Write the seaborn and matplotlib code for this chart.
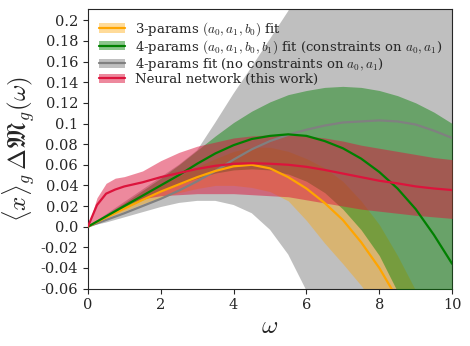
import numpy as np
import pandas as pd
import matplotlib
matplotlib.use("Agg")
import matplotlib.pyplot as plt
from matplotlib.patches import Patch
from matplotlib.lines import Line2D
import seaborn as sns

# omega grids
w_half = [0, 0.5, 1, 1.5, 2, 2.5, 3, 3.5, 4, 4.5, 5, 5.5, 6, 6.5, 7, 7.5, 8, 8.5, 9, 9.5, 10]

# 3-params fit (orange)
orange_c = [0, 0.009, 0.0175, 0.026, 0.034, 0.041, 0.048, 0.054, 0.0585, 0.060, 0.0565, 0.048,
            0.037, 0.023, 0.0065, -0.015, -0.040, -0.070, -0.105, -0.145, -0.19]
orange_lo = [0, 0.008, 0.015, 0.022, 0.028, 0.033, 0.037, 0.040, 0.040, 0.038, 0.034, 0.025,
             0.006, -0.016, -0.036, -0.057, -0.081, -0.11, -0.15, -0.19, -0.24]
orange_hi = [0, 0.010, 0.020, 0.030, 0.040, 0.049, 0.058, 0.066, 0.073, 0.077, 0.077, 0.073,
             0.066, 0.057, 0.044, 0.025, 0.002, -0.028, -0.062, -0.10, -0.145]

# 4-params fit, constraints on a0, a1 (green)
green_c = [0, 0.010, 0.020, 0.030, 0.040, 0.050, 0.061, 0.071, 0.079, 0.085, 0.088, 0.0895,
           0.088, 0.083, 0.076, 0.066, 0.053, 0.037, 0.017, -0.008, -0.036]
green_lo = [0, 0.009, 0.018, 0.026, 0.034, 0.041, 0.047, 0.052, 0.055, 0.056, 0.055, 0.051,
            0.044, 0.033, 0.017, -0.003, -0.028, -0.063, -0.10, -0.145, -0.19]
green_hi = [0, 0.012, 0.023, 0.035, 0.047, 0.060, 0.074, 0.088, 0.101, 0.112, 0.121, 0.128,
            0.132, 0.135, 0.136, 0.135, 0.132, 0.127, 0.120, 0.111, 0.100]

# 4-params fit, no constraints (gray)
gray_c = [0, 0.0065, 0.013, 0.020, 0.027, 0.035, 0.044, 0.054, 0.065, 0.075, 0.083, 0.089,
          0.094, 0.098, 0.101, 0.102, 0.103, 0.102, 0.099, 0.093, 0.086]
gray_lo = [0, 0.004, 0.009, 0.014, 0.019, 0.023, 0.025, 0.025, 0.021, 0.013, -0.003, -0.027,
           -0.062, -0.105, -0.16, -0.22, -0.29, -0.37, -0.45, -0.54, -0.64]
gray_hi = [0, 0.012, 0.024, 0.036, 0.048, 0.060, 0.074, 0.101, 0.129, 0.155, 0.182, 0.209,
           0.24, 0.27, 0.30, 0.33, 0.37, 0.41, 0.45, 0.49, 0.53]

# neural network (red)
w_nn = [0, 0.25, 0.5, 0.75, 1, 1.5, 2, 2.5, 3, 3.5, 4, 4.5, 5, 5.5, 6, 6.5, 7, 7.5, 8, 8.5,
        9, 9.5, 10]
nn_c = [0, 0.021, 0.032, 0.036, 0.039, 0.043, 0.048, 0.052, 0.056, 0.059, 0.061, 0.0615, 0.061,
        0.060, 0.058, 0.055, 0.0515, 0.048, 0.0445, 0.042, 0.039, 0.037, 0.0355]
nn_lo = [0, 0.006, 0.012, 0.017, 0.021, 0.027, 0.030, 0.031, 0.032, 0.032, 0.032, 0.031, 0.030,
         0.029, 0.026, 0.023, 0.020, 0.017, 0.015, 0.013, 0.011, 0.0095, 0.008]
nn_hi = [0, 0.028, 0.042, 0.047, 0.0485, 0.054, 0.064, 0.072, 0.078, 0.082, 0.086, 0.088, 0.089,
         0.089, 0.088, 0.086, 0.083, 0.079, 0.076, 0.073, 0.070, 0.067, 0.065]

labels = [r"3-params $(a_0,a_1,b_0)$ fit",
          r"4-params $(a_0,a_1,b_0,b_1)$ fit (constraints on $a_0,a_1$)",
          r"4-params fit (no constraints on $a_0,a_1$)",
          "Neural network (this work)"]
yticks = [-0.06, -0.04, -0.02, 0.0, 0.02, 0.04, 0.06, 0.08, 0.1, 0.12, 0.14, 0.16, 0.18, 0.2]
xticks = [0, 2, 4, 6, 8, 10]

sns.set_style("ticks")
plt.rcParams["font.family"] = ["DejaVu Serif"]
plt.rcParams["mathtext.fontset"] = "cm"

fig = plt.figure(figsize=(4.7, 3.46), dpi=100)
ax = fig.add_axes([0.187, 0.166, 0.775, 0.808])

# bands
ax.fill_between(w_half, gray_lo, gray_hi, color="gray", alpha=0.5, lw=0, zorder=1)
ax.fill_between(w_half, orange_lo, orange_hi, color="orange", alpha=0.4, lw=0, zorder=2)
ax.fill_between(w_half, green_lo, green_hi, color="green", alpha=0.45, lw=0, zorder=3)
ax.fill_between(w_nn, nn_lo, nn_hi, color="crimson", alpha=0.5, lw=0, zorder=4)

# central lines
df_fit = pd.DataFrame({"w": w_half, "orange": orange_c, "green": green_c, "gray": gray_c})
sns.lineplot(data=df_fit, x="w", y="gray", color="gray", lw=1.6, ax=ax, zorder=5)
sns.lineplot(data=df_fit, x="w", y="orange", color="orange", lw=1.6, ax=ax, zorder=6)
sns.lineplot(data=df_fit, x="w", y="green", color="green", lw=1.6, ax=ax, zorder=7)
sns.lineplot(x=w_nn, y=nn_c, color="crimson", lw=1.6, ax=ax, zorder=8)

ax.set_xlim(0, 10)
ax.set_ylim(-0.06, 0.211)
ax.set_xticks(xticks)
ax.set_xticklabels([str(t) for t in xticks])
ax.set_yticks(yticks)
ax.set_yticklabels([str(t) for t in yticks])
ax.tick_params(labelsize=10.5)
ax.set_xlabel(r"$\omega$", fontsize=18, labelpad=2)
ax.set_ylabel(r"$\langle x\rangle_g\,\Delta\mathfrak{M}_g(\omega)$", fontsize=18, labelpad=2)

handles = []
for c, a in [("orange", 0.4), ("green", 0.45), ("gray", 0.5), ("crimson", 0.5)]:
    handles.append((Patch(facecolor=c, alpha=a, lw=0), Line2D([], [], color=c, lw=1.6)))
ax.legend(handles, labels, loc="upper left", frameon=False, fontsize=9.5,
          labelspacing=0.0, handlelength=2.0, borderaxespad=0.45, handletextpad=0.7)

fig.savefig("out.png", dpi=100)
